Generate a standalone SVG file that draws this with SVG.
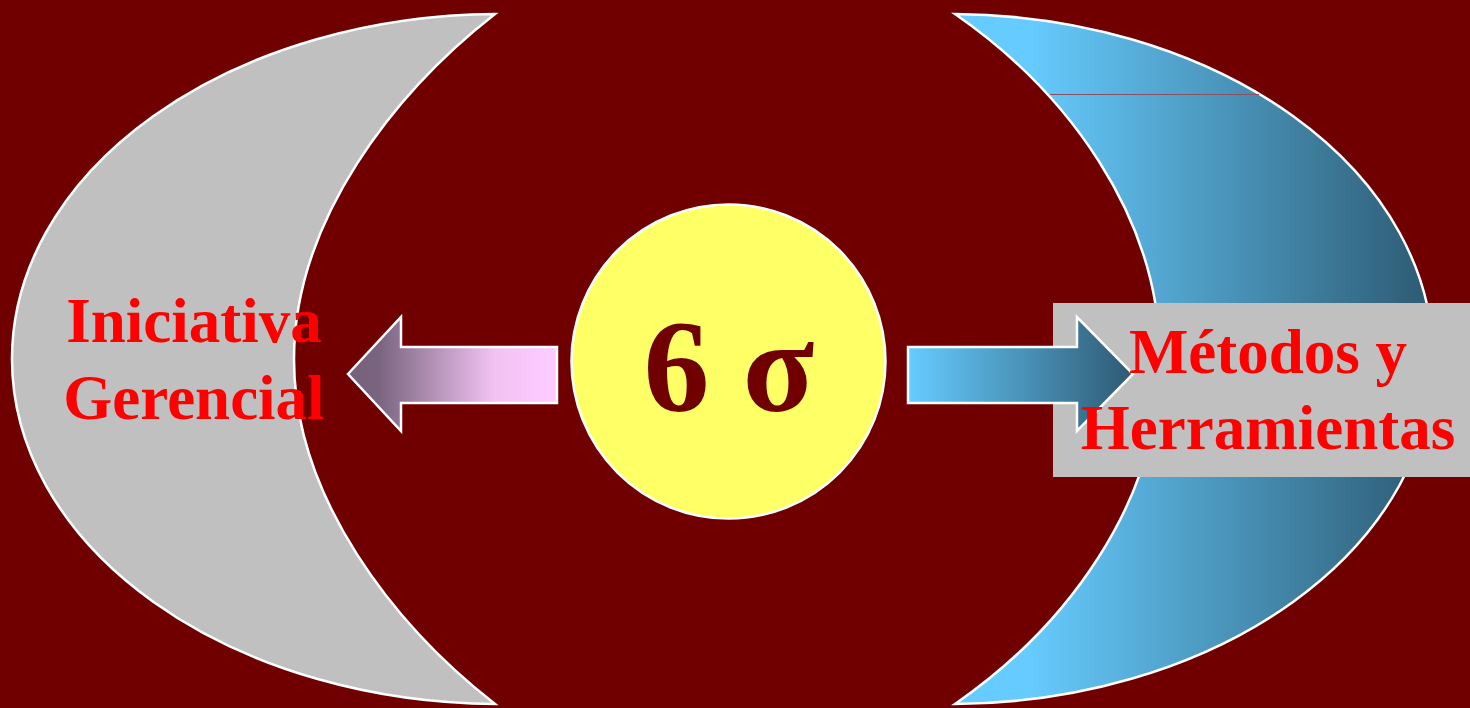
<svg xmlns="http://www.w3.org/2000/svg" width="1470" height="708" viewBox="0 0 1470 708">
  <defs>
    <style>
      .edge { stroke: #FFFFFF; stroke-width: 2.5; stroke-linejoin: miter; }
      .label { font-family: "Liberation Serif", "Times New Roman", serif; font-weight: bold; fill: #FF0000; font-size: 63px; text-anchor: middle; }
      .sigma { font-family: "Liberation Serif", "Times New Roman", serif; font-weight: bold; fill: #700000; font-size: 132px; text-anchor: middle; }
    </style>
    <linearGradient id="gBlue" gradientUnits="userSpaceOnUse" x1="955" y1="0" x2="1433" y2="0">
      <stop offset="0" stop-color="#66CCFF"/>
      <stop offset="0.15" stop-color="#66CCFF"/>
      <stop offset="1" stop-color="#2D5A72"/>
    </linearGradient>
    <linearGradient id="gBlueArrow" gradientUnits="userSpaceOnUse" x1="908" y1="0" x2="1133" y2="0">
      <stop offset="0" stop-color="#66CCFF"/>
      <stop offset="1" stop-color="#2E5A73"/>
    </linearGradient>
    <linearGradient id="gPink" gradientUnits="userSpaceOnUse" x1="348" y1="0" x2="557" y2="0">
      <stop offset="0" stop-color="#76607A"/>
      <stop offset="0.15" stop-color="#7A6580"/>
      <stop offset="0.7" stop-color="#F2C2F2"/>
      <stop offset="1" stop-color="#FFCCFF"/>
    </linearGradient>
  </defs>

  <rect x="0" y="0" width="1470" height="708" fill="#700000"/>

  <g id="node-iniciativa">
    <path class="edge" fill="#C0C0C0" d="M495,14 A488,345 0 0,0 12,359 A488,345 0 0,0 495,704 C395,626 294,498 294,359 C294,220 395,92 495,14 Z"/>
  </g>

  <g id="node-metodos-shape">
    <path class="edge" fill="url(#gBlue)" d="M955,14 A483,345 0 0,1 1433,359 A483,345 0 0,1 955,704 C1065,628 1160,503 1160,359 C1160,215 1065,90 955,14 Z"/>
    <line x1="1050" y1="94.5" x2="1259" y2="94.5" stroke="#8C5064" stroke-width="1"/>
  </g>

  <g id="node-metodos-label">
    <rect x="1053" y="303" width="417" height="174" fill="#C0C0C0"/>
  </g>

  <g id="node-six-sigma">
    <circle class="edge" cx="728.5" cy="361.5" r="157" fill="#FFFF66"/>
    <text class="sigma" x="729" y="411">6 σ</text>
  </g>

  <g id="connectors">
    <path class="edge" fill="url(#gPink)" d="M348,374 L401,317 L401,347 L557,347 L557,403 L401,403 L401,431 Z"/>
    <path class="edge" fill="url(#gBlueArrow)" d="M908,347 L1077,347 L1077,317 L1133,374 L1077,431 L1077,403 L908,403 Z"/>
  </g>

  <g id="labels">
    <text class="label" x="194" y="342">Iniciativa</text>
    <text class="label" x="194" y="419">Gerencial</text>
    <text class="label" x="1268" y="373">Métodos y</text>
    <text class="label" x="1268" y="449">Herramientas</text>
  </g>
</svg>
